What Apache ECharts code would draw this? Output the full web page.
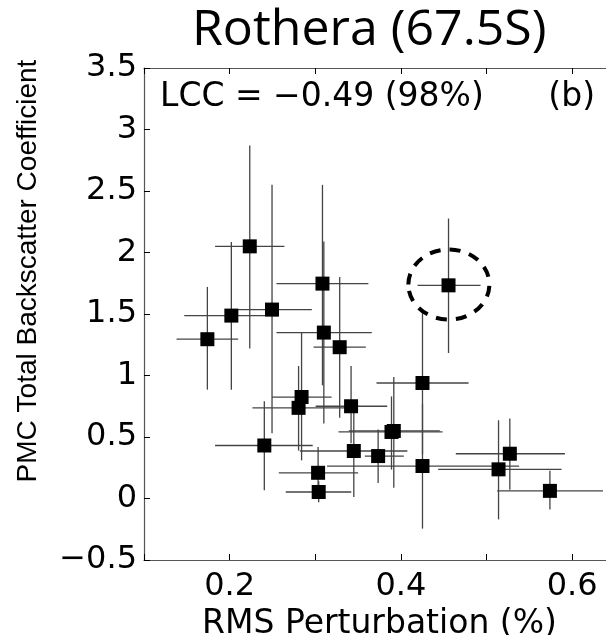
<!DOCTYPE html>
<html>
<head>
    <meta charset="utf-8">
    <title>Rothera</title>
    <script src="https://cdn.jsdelivr.net/npm/echarts@6/dist/echarts.min.js"></script>
    <style>
        html, body { margin: 0; padding: 0; background: #fff; }
    </style>
</head>
<body>
    <div id="main" style="width: 606px;height:635px;"></div>
    <script type="text/javascript">
        // values
        var rmsX    = [0.174, 0.202, 0.2235, 0.2495, 0.2405, 0.284, 0.2805, 0.3084, 0.310, 0.3285, 0.3418, 0.345, 0.3033, 0.304, 0.3734, 0.389, 0.3917, 0.4252, 0.4252, 0.4556, 0.514, 0.5272, 0.574];
        var rmsXLo  = [0.138, 0.147, 0.183, 0.208, 0.183, 0.2495, 0.2266, 0.2547, 0.2547, 0.298, 0.3004, 0.282, 0.2574, 0.2655, 0.3578, 0.3271, 0.3391, 0.3138, 0.3715, 0.4194, 0.4435, 0.4641, 0.5124];
        var rmsXHi  = [0.210, 0.257, 0.264, 0.296, 0.297, 0.319, 0.335, 0.362, 0.366, 0.359, 0.384, 0.4075, 0.350, 0.342, 0.4034, 0.4486, 0.4454, 0.538, 0.479, 0.493, 0.5876, 0.5915, 0.636];
        var pmcY    = [1.295, 1.487, 2.05, 1.536, 0.431, 0.825, 0.737, 1.747, 1.349, 1.23, 0.750, 0.386, 0.209, 0.053, 0.345, 0.541, 0.549, 0.264, 0.939, 1.733, 0.237, 0.364, 0.062];
        var pmcYLo  = [0.885, 0.885, 1.22, 0.53, 0.067, 0.31, 0.39, 0.92, 0.609, 0.657, 0.45, 0.012, 0.0, -0.03, 0.126, 0.235, 0.088, -0.245, 0.36, 1.183, -0.17, 0.072, -0.09];
        var pmcYHi  = [1.72, 2.085, 2.87, 2.55, 0.79, 1.35, 1.077, 2.55, 2.09, 1.80, 1.077, 0.75, 0.419, 0.14, 0.56, 0.83, 0.988, 0.77, 1.516, 2.276, 0.636, 0.65, 0.226];

        var circleCenter = [0.456, 1.74];
        var circleRadius = [0.0473, 0.285];

        var xTickLabels = ['0.2', '0.4', '0.6'];
        var yTickLabels = ['\u22120.5', '0', '0.5', '1', '1.5', '2', '2.5', '3', '3.5'];

        var points = [];
        var bars = [];
        for (var i = 0; i < rmsX.length; i++) {
            points.push([rmsX[i], pmcY[i]]);
            bars.push([rmsX[i], pmcY[i], rmsXLo[i], rmsXHi[i], pmcYLo[i], pmcYHi[i]]);
        }

        var axisGray = '#555';
        var font = 'DejaVu Sans';

        var myChart = echarts.init(document.getElementById('main'));
        var option = {
            animation: false,
            title: {
                text: 'Rothera (67.5S)',
                left: 187,
                top: 1,
                textStyle: {
                    fontFamily: "'Comic Sans MS', 'Open Sans'",
                    fontSize: 50,
                    fontWeight: 'normal',
                    color: '#000'
                }
            },
            grid: {
                left: 144,
                top: 68,
                width: 471,
                height: 492,
                containLabel: false,
                outerBoundsMode: 'none'
            },
            xAxis: [{
                type: 'value',
                min: 0.1,
                max: 0.65,
                interval: 0.1,
                name: 'RMS Perturbation (%)',
                nameLocation: 'middle',
                nameGap: 39,
                nameTextStyle: { fontFamily: font, fontSize: 33, color: '#000' },
                axisLine: { show: true, onZero: false, lineStyle: { color: axisGray, width: 1.2 } },
                axisTick: { inside: true, length: 6, lineStyle: { color: '#000' } },
                axisLabel: {
                    margin: 11,
                    fontFamily: font,
                    fontSize: 32,
                    color: '#000',
                    formatter: function (v) {
                        var s = String(Math.round(v * 10) / 10);
                        return xTickLabels.indexOf(s) >= 0 ? s : '';
                    }
                },
                splitLine: { show: false }
            }, {
                type: 'value',
                position: 'top',
                min: 0.1,
                max: 0.65,
                interval: 0.1,
                axisLine: { show: true, onZero: false, lineStyle: { color: axisGray, width: 1.2 } },
                axisTick: { inside: true, length: 6, lineStyle: { color: '#000' } },
                axisLabel: { show: false },
                splitLine: { show: false }
            }],
            yAxis: {
                type: 'value',
                min: -0.5,
                max: 3.5,
                interval: 0.5,
                axisLine: { show: true, onZero: false, lineStyle: { color: axisGray, width: 1.2 } },
                axisTick: { inside: true, length: 6, lineStyle: { color: '#000' } },
                axisLabel: {
                    margin: 7,
                    fontFamily: font,
                    fontSize: 32,
                    color: '#000',
                    formatter: function (v) {
                        var k = Math.round((v + 0.5) / 0.5);
                        return yTickLabels[k] || '';
                    }
                },
                splitLine: { show: false }
            },
            graphic: [{
                type: 'text',
                left: 160,
                top: 81,
                style: { text: 'LCC = \u22120.49 (98%)', font: '33px "DejaVu Sans"', fill: '#000' }
            }, {
                type: 'text',
                right: 11,
                top: 81,
                style: { text: '(b)', font: '33px "DejaVu Sans"', fill: '#000' }
            }, {
                type: 'text',
                x: 28,
                y: 271,
                rotation: Math.PI / 2,
                style: {
                    text: 'PMC Total Backscatter Coefficient',
                    font: '28px "Liberation Sans"',
                    fill: '#000',
                    align: 'center',
                    verticalAlign: 'middle'
                }
            }],
            series: [{
                type: 'custom',
                name: 'error bars',
                data: bars,
                renderItem: function (params, api) {
                    var x = api.value(0), y = api.value(1);
                    var l = api.coord([api.value(2), y]);
                    var r = api.coord([api.value(3), y]);
                    var b = api.coord([x, api.value(4)]);
                    var t = api.coord([x, api.value(5)]);
                    var st = { stroke: '#444', lineWidth: 1.3 };
                    return {
                        type: 'group',
                        children: [
                            { type: 'line', shape: { x1: l[0], y1: l[1], x2: r[0], y2: r[1] }, style: st },
                            { type: 'line', shape: { x1: b[0], y1: b[1], x2: t[0], y2: t[1] }, style: st }
                        ]
                    };
                },
                z: 2
            }, {
                type: 'scatter',
                data: points,
                symbol: 'rect',
                symbolSize: 14,
                itemStyle: { color: '#000', opacity: 1 },
                z: 3
            }, {
                type: 'custom',
                name: 'circle',
                data: [[circleCenter[0], circleCenter[1], circleRadius[0], circleRadius[1]]],
                renderItem: function (params, api) {
                    var c = api.coord([api.value(0), api.value(1)]);
                    var rx = api.size([api.value(2), 0])[0];
                    var ry = api.size([0, api.value(3)])[1];
                    return {
                        type: 'ellipse',
                        shape: { cx: c[0], cy: c[1], rx: rx, ry: ry },
                        style: { fill: 'none', stroke: '#000', lineWidth: 4, lineDash: [11, 9] }
                    };
                },
                z: 4
            }]
        };
        myChart.setOption(option);
    </script>
</body>
</html>
